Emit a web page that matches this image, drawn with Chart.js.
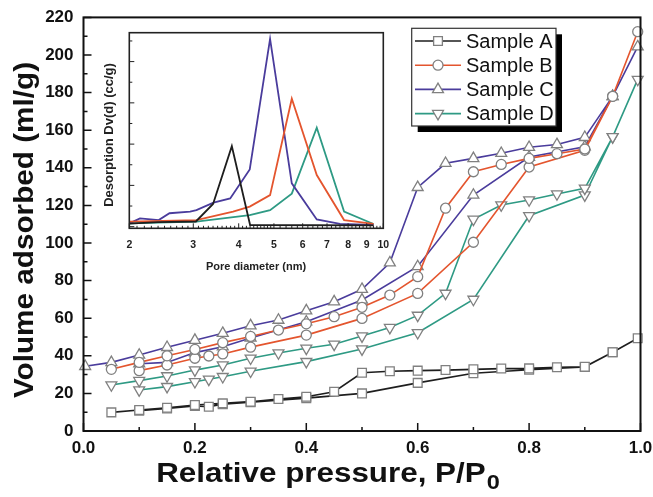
<!DOCTYPE html>
<html lang="en">
<head>
<meta charset="UTF-8">
<title>N2 isotherms and pore size distribution</title>
<script src="https://cdn.jsdelivr.net/npm/chart.js"></script>
<style>
  body { margin: 0; background: #fff; }
  #wrap { position: relative; width: 653px; height: 497px; }
  #main { position: absolute; left: 0; top: 0; }
  #inset { position: absolute; left: 100px; top: 25px; }
</style>
</head>
<body>
<div id="wrap">
  <canvas id="main" width="653" height="497"></canvas>
  <canvas id="inset" width="295" height="255"></canvas>
</div>
<script>
// relative pressure P/P0 - adsorption branch goes up, desorption comes back down
const adsP = [0.1, 0.15, 0.2, 0.225, 0.25, 0.3, 0.4, 0.5, 0.6, 0.7, 0.8, 0.9, 0.95, 0.995];
const desP = [0.95, 0.9, 0.85, 0.8, 0.75, 0.7, 0.65, 0.6, 0.55, 0.5, 0.45, 0.4, 0.35, 0.3, 0.25, 0.2, 0.15, 0.1, 0.05, 0.003];

// volume adsorbed (ml/g)
const sampleAAds = [10.8, 12, 13.3, 12.9, 14.2, 15.3, 17.5, 20, 25.6, 30.7, 32.6, 34, 41.9, 49.3];
const sampleADes = [41.9, 34.2, 33.9, 33.3, 33.2, 32.8, 32.4, 32.1, 31.8, 31, 20.9, 18.2, 17, 15.6, 14.7, 13.8, 12.4, 11.2, 9.9, null];
const sampleBAds = [32.1, 35.1, 38.7, 39.9, 41, 44.6, 51, 59.9, 73.2, 100.4, 140.4, 149.3, 178, 212.4];
const sampleBDes = [178, 150, 147.5, 145, 141.8, 137.9, 118.5, 82.1, 72.3, 65.8, 60.8, 57, 53.7, 50.3, 47, 43.4, 40, 36.5, 32.8, null];
const sampleCAds = [35.8, 36.5, 41.7, null, 44.8, 49.5, 58.1, 69.7, 87.5, 125.5, 145.7, 151.2, 178, 204.4];
const sampleCDes = [178, 156.2, 152.4, 150.9, 147.7, 145, 142.4, 129.6, 89.5, 75.4, 68.8, 64, 59, 56, 52, 48.3, 44.5, 40.4, 36.5, 34.4];
const sampleDAds = [21.8, 23.6, 26.2, 27.5, 28.9, 31.8, 36.9, 43.6, 52.3, 70, 114.5, 125.5, 156.5, 187];
const sampleDDes = [156.5, 129.1, 126.1, 122.9, 120.2, 112.6, 73.2, 61.5, 55, 50.5, 46.1, 44, 41.5, 38.7, 35.1, 32.4, 29.3, 26.8, 24.5, null];

const sampleNames = ['Sample A', 'Sample B', 'Sample C', 'Sample D'];
const xTicks = [0, 0.2, 0.4, 0.6, 0.8, 1.0];

// inset: desorption pore size distribution (arbitrary units, axis has no labels)
const poreTicks = [2, 3, 4, 5, 6, 7, 8, 9, 10];
const psdAd = [2, 2.4, 3.05, 3.4, 3.83, 4.3, 9.4];
const psdAv = [0.15, 0.22, 0.25, 1.1, 3.9, 0.08, 0.06];
const psdBd = [2, 3.06, 3.86, 4.29, 4.88, 5.6, 6.56, 7.8, 9.4];
const psdBv = [0.24, 0.32, 0.73, 0.97, 1.53, 6.2, 2.5, 0.32, 0.13];
const psdCd = [2, 2.14, 2.41, 2.58, 2.94, 3.06, 3.41, 3.79, 4.29, 4.88, 5.6, 6.56, 7.6, 9.4];
const psdCv = [0.16, 0.4, 0.32, 0.65, 0.73, 0.8, 1.16, 1.37, 2.77, 9.1, 2.1, 0.35, 0.13, 0.08];
const psdDd = [2, 3.06, 4.29, 4.88, 5.6, 6.56, 7.8, 9.4];
const psdDv = [0.16, 0.24, 0.56, 0.8, 1.6, 4.8, 0.73, 0.13];

const colors = ['#1e1e1e', '#e4552e', '#4a3c9c', '#2e9a84'];
const markers = [
  { pointStyle: 'rect', rotation: 0, radius: 6.2 },
  { pointStyle: 'circle', rotation: 0, radius: 5 },
  { pointStyle: 'triangle', rotation: 0, radius: 6.3 },
  { pointStyle: 'triangle', rotation: 180, radius: 6.3 }
];
const FONT = "'Liberation Sans', Arial, sans-serif";

function loop(ads, des) {
  const pts = adsP.map((p, i) => ({ x: p, y: ads[i] }));
  return pts.concat(desP.map((p, i) => ({ x: p, y: des[i] })));
}
function pairs(d, v) {
  return d.map((x, i) => ({ x: x, y: v[i] }));
}
// keep the plot box where it is, labels are allowed to hang over
function noOverhang(s) {
  s.paddingLeft = 0; s.paddingRight = 0; s.paddingTop = 0; s.paddingBottom = 0;
}

const isoData = [
  loop(sampleAAds, sampleADes),
  loop(sampleBAds, sampleBDes),
  loop(sampleCAds, sampleCDes),
  loop(sampleDAds, sampleDDes)
];

const mainPlugin = {
  id: 'mainDecor',
  beforeDraw(chart) {
    const c = chart.ctx;
    c.save();
    c.fillStyle = '#fff';
    c.fillRect(0, 0, chart.width, chart.height);
    c.restore();
  },
  afterDraw(chart) {
    const c = chart.ctx, a = chart.chartArea;
    const xs = chart.scales.x, ys = chart.scales.y;
    c.save();
    c.strokeStyle = '#111';
    c.lineWidth = 2;
    c.strokeRect(a.left, a.top, a.right - a.left, a.bottom - a.top);

    // inward ticks
    c.lineWidth = 1.5;
    c.beginPath();
    for (let i = 0; i <= 10; i++) {
      const x = xs.getPixelForValue(i / 10);
      const len = i % 2 ? 4 : 8;
      c.moveTo(x, a.bottom); c.lineTo(x, a.bottom - len);
    }
    for (let v = 0; v <= 220; v += 10) {
      const y = ys.getPixelForValue(v);
      const len = v % 20 ? 4 : 8;
      c.moveTo(a.left, y); c.lineTo(a.left + len, y);
    }
    c.stroke();

    // axis titles
    c.fillStyle = '#111';
    c.textBaseline = 'alphabetic';
    c.save();
    c.translate(33, 230);
    c.rotate(-Math.PI / 2);
    c.scale(1.1, 1);
    c.textAlign = 'center';
    c.font = 'bold 27px ' + FONT;
    c.fillText('Volume adsorbed (ml/g)', 0, 0);
    c.restore();

    c.save();
    c.textAlign = 'left';
    c.font = 'bold 28px ' + FONT;
    const main = 'Relative pressure, P/P';
    const w1 = c.measureText(main).width;
    c.font = 'bold 21px ' + FONT;
    const w2 = c.measureText('0').width;
    const k = 1.12;
    c.translate(328 - k * (w1 + w2 + 1) / 2, 482);
    c.scale(k, 1);
    c.font = 'bold 28px ' + FONT;
    c.fillText(main, 0, 0);
    c.font = 'bold 21px ' + FONT;
    c.fillText('0', w1 + 1, 7);
    c.restore();

    // legend with drop shadow
    const lx = 411.7, ly = 28.3, lw = 144.3, lh = 97.7;
    c.fillStyle = '#000';
    c.fillRect(lx + 6, ly + 6, lw, lh);
    c.fillStyle = '#fff';
    c.fillRect(lx, ly, lw, lh);
    c.strokeStyle = '#333';
    c.lineWidth = 1.2;
    c.strokeRect(lx, ly, lw, lh);
    chart.data.datasets.forEach((ds, i) => {
      const y = 41 + i * 24.2;
      c.strokeStyle = ds.borderColor;
      c.lineWidth = 1.6;
      c.beginPath();
      c.moveTo(415, y); c.lineTo(461, y);
      c.stroke();
      c.fillStyle = '#fff';
      c.strokeStyle = '#808080';
      c.lineWidth = 1.3;
      Chart.helpers.drawPoint(c, {
        pointStyle: ds.pointStyle, rotation: ds.pointRotation,
        radius: ds.pointRadius, borderWidth: 1.3
      }, 438, y);
      c.fillStyle = '#111';
      c.font = '20px ' + FONT;
      c.textBaseline = 'middle';
      c.fillText(ds.label, 466, y + 1);
    });
    c.restore();
  }
};

new Chart(document.getElementById('main'), {
  type: 'line',
  data: {
    datasets: isoData.map((d, i) => ({
      label: sampleNames[i],
      data: d,
      borderColor: colors[i],
      borderWidth: 1.6,
      pointStyle: markers[i].pointStyle,
      pointRotation: markers[i].rotation,
      pointRadius: markers[i].radius,
      pointBackgroundColor: '#fff',
      pointBorderColor: '#808080',
      pointBorderWidth: 1.3,
      spanGaps: true,
      tension: 0,
      clip: false
    }))
  },
  options: {
    responsive: false,
    animation: false,
    devicePixelRatio: 1,
    layout: { padding: { top: 17.4, right: 12.5, left: 0, bottom: 0 } },
    plugins: { legend: { display: false }, tooltip: { enabled: false } },
    scales: {
      x: {
        type: 'linear', min: 0, max: 1,
        afterBuildTicks: s => { s.ticks = xTicks.map(v => ({ value: v })); },
        afterFit: s => { s.height = 66; noOverhang(s); },
        grid: { display: false, drawTicks: false },
        border: { display: false },
        ticks: {
          padding: 7, color: '#111',
          font: { family: FONT, size: 17, weight: 'bold' },
          callback: v => v.toFixed(1),
          maxRotation: 0
        }
      },
      y: {
        min: 0, max: 220,
        afterFit: s => { s.width = 83.5; noOverhang(s); },
        grid: { display: false, drawTicks: false },
        border: { display: false },
        ticks: {
          stepSize: 20, padding: 10, color: '#111',
          font: { family: FONT, size: 17, weight: 'bold' }
        }
      }
    }
  },
  plugins: [mainPlugin]
});

// ---------- inset ----------
const insetPlugin = {
  id: 'insetDecor',
  beforeDraw(chart) {
    const c = chart.ctx, a = chart.chartArea;
    c.save();
    c.fillStyle = '#fff';
    c.fillRect(a.left, a.top, a.right - a.left, a.bottom - a.top);
    c.restore();
  },
  afterDraw(chart) {
    const c = chart.ctx, a = chart.chartArea;
    const xs = chart.scales.x, ys = chart.scales.y;
    c.save();
    c.strokeStyle = '#222';
    c.lineWidth = 1.6;
    c.strokeRect(a.left, a.top, a.right - a.left, a.bottom - a.top);
    c.lineWidth = 1;
    c.beginPath();
    for (let d = 20; d <= 100; d += (d < 50 ? 1 : 2)) {
      const x = xs.getPixelForValue(d / 10);
      const len = d % 10 ? 2.5 : 5;
      c.moveTo(x, a.bottom); c.lineTo(x, a.bottom - len);
    }
    for (let v = 0; v <= 9; v++) {
      const y = ys.getPixelForValue(v);
      c.moveTo(a.left, y); c.lineTo(a.left + (v % 2 ? 3 : 5), y);
    }
    c.stroke();

    c.fillStyle = '#222';
    c.font = 'bold 11px ' + FONT;
    c.textAlign = 'center';
    c.textBaseline = 'middle';
    c.fillText('Pore diameter (nm)', 156, 242);
    c.save();
    c.translate(9, 110);
    c.rotate(-Math.PI / 2);
    c.font = 'bold 13px ' + FONT;
    c.fillText('Desorption Dv(d) (cc/g)', 0, 0);
    c.restore();
    c.restore();
  }
};

const psdData = [pairs(psdAd, psdAv), pairs(psdBd, psdBv), pairs(psdCd, psdCv), pairs(psdDd, psdDv)];

new Chart(document.getElementById('inset'), {
  type: 'line',
  data: {
    datasets: psdData.map((d, i) => ({
      label: sampleNames[i],
      data: d,
      borderColor: colors[i],
      borderWidth: 1.8,
      pointRadius: 0,
      tension: 0
    }))
  },
  options: {
    responsive: false,
    animation: false,
    devicePixelRatio: 1,
    layout: { padding: { top: 7.7, right: 11.7, left: 0, bottom: 0 } },
    plugins: { legend: { display: false }, tooltip: { enabled: false } },
    scales: {
      x: {
        type: 'logarithmic', min: 2, max: 10,
        afterBuildTicks: s => { s.ticks = poreTicks.map(v => ({ value: v })); },
        afterFit: s => { s.height = 51.7; noOverhang(s); },
        grid: { display: false, drawTicks: false },
        border: { display: false },
        ticks: {
          padding: 11, color: '#222', maxRotation: 0, autoSkip: false,
          font: { family: FONT, size: 10.5, weight: 'bold' },
          callback: v => String(v)
        }
      },
      y: {
        min: -0.08, max: 9.4,
        afterFit: s => { s.width = 29.3; noOverhang(s); },
        grid: { display: false, drawTicks: false },
        border: { display: false },
        ticks: { display: false }
      }
    }
  },
  plugins: [insetPlugin]
});
</script>
</body>
</html>
